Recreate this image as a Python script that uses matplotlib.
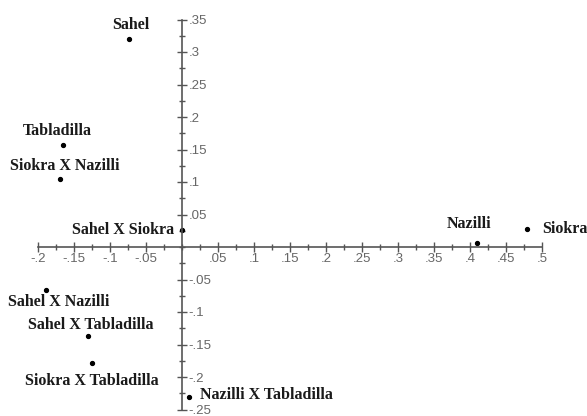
import matplotlib.pyplot as plt
import numpy as np

# points
names = ['Sahel', 'Tabladilla', 'Siokra X Nazilli', 'Sahel X Siokra', 'Sahel X Nazilli',
         'Sahel X Tabladilla', 'Siokra X Tabladilla', 'Nazilli X Tabladilla', 'Nazilli', 'Siokra']
x_vals = [-0.074, -0.165, -0.169, 0.0, -0.189, -0.131, -0.125, 0.010, 0.410, 0.479]
y_vals = [0.320, 0.157, 0.105, 0.026, -0.066, -0.137, -0.178, -0.231, 0.006, 0.028]

x_ticks = [-0.2, -0.15, -0.1, -0.05, 0.05, 0.1, 0.15, 0.2, 0.25, 0.3, 0.35, 0.4, 0.45, 0.5]
y_ticks = [-0.25, -0.2, -0.15, -0.1, -0.05, 0.05, 0.1, 0.15, 0.2, 0.25, 0.3, 0.35]

# label offsets (points) and horizontal alignment
offsets = [(1.5, 10, 'center'), (-4, 10, 'center'), (3.5, 9.5, 'center'),
           (-6, 0, 'right'), (9, -9, 'center'), (2, 8, 'center'),
           (0, -13, 'center'), (8, 1.5, 'left'), (-6, 14, 'center'),
           (11, 0, 'left')]

def fmt(v):
    return ('%g' % v).replace('0.', '.')

fig = plt.figure(figsize=(5.87, 4.16), dpi=100)
ax = fig.add_axes([0, 0, 1, 1])
ax.set_xlim(-182 / 720, 405 / 720)
ax.set_ylim(-169 / 650, 247 / 650)

for s in ['top', 'left']:
    ax.spines[s].set_visible(False)
ax.spines['bottom'].set_position(('data', 0))
ax.spines['right'].set_position(('data', 0))
ax.spines['bottom'].set_bounds(-0.2, 0.5)
ax.spines['right'].set_bounds(-0.25, 0.35)
for s in ['bottom', 'right']:
    ax.spines[s].set_color('#555555')
    ax.spines[s].set_linewidth(1.2)
    ax.spines[s].set_zorder(4)

ax.yaxis.tick_right()
ax.set_xticks(x_ticks)
ax.set_xticklabels([fmt(v) for v in x_ticks])
ax.set_yticks(y_ticks)
ax.set_yticklabels([fmt(v) for v in y_ticks])
ax.set_xticks(np.arange(-0.2, 0.5001, 0.025), minor=True)
ax.set_yticks(np.arange(-0.25, 0.3501, 0.025), minor=True)
ax.tick_params(which='major', direction='inout', length=7, width=1, color='#555555',
               labelsize=9.5, labelcolor='#666666', pad=1)
ax.tick_params(which='minor', direction='inout', length=4, width=1, color='#555555')
for lab in ax.get_xticklabels() + ax.get_yticklabels():
    lab.set_family('Liberation Sans')

ax.plot(x_vals, y_vals, 'o', color='black', markersize=2.8, zorder=3)
for n, xv, yv, (dx, dy, ha) in zip(names, x_vals, y_vals, offsets):
    ax.annotate(n, (xv, yv), xytext=(dx, dy), textcoords='offset points', ha=ha, va='center',
                fontsize=11.5, fontweight='bold', family='Liberation Serif', color='#1a1a1a')

fig.savefig('out.png', dpi=100)
